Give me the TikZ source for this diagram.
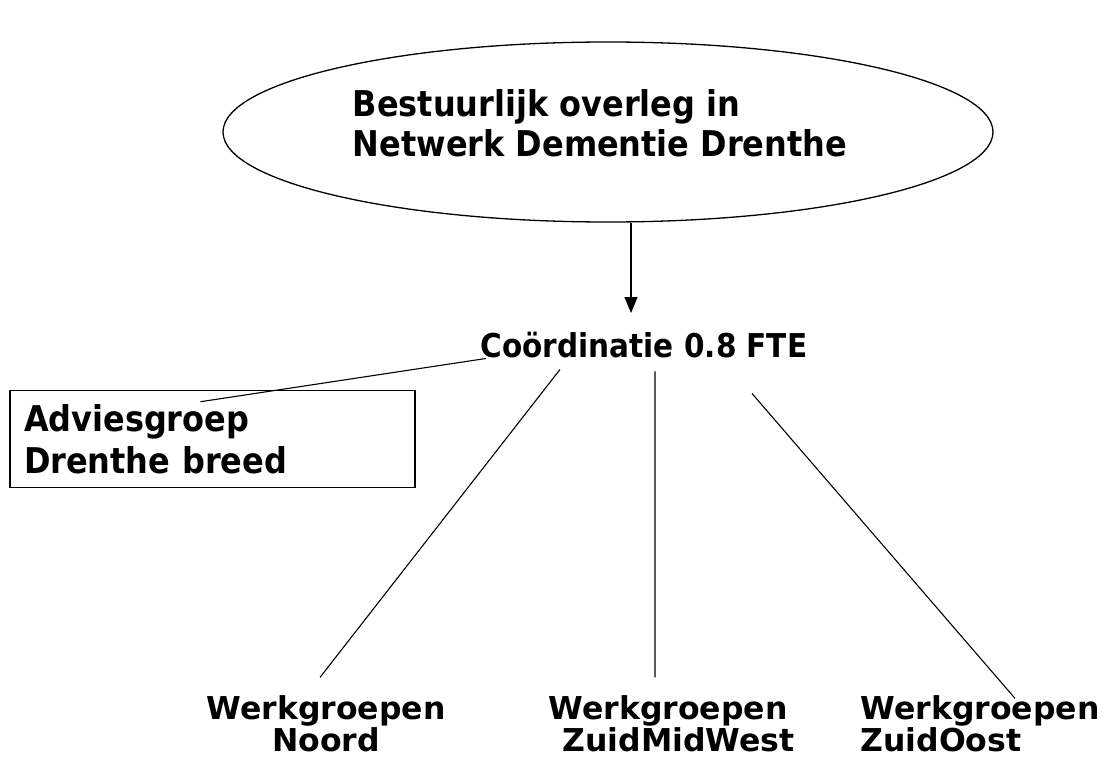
\documentclass[tikz,border=0pt]{standalone}
\usepackage{fontspec}
\setmainfont{DejaVu Sans}
\newfontfamily\smalfont[FakeStretch=0.9]{DejaVu Sans}
\usetikzlibrary{positioning, shapes.geometric, arrows.meta}

\begin{document}
\begin{tikzpicture}[
            x = 1pt, y = -1pt, % pixel grid, y runs downwards
            > = {Triangle[length=16pt, width=13pt]}, % arrow head style
            line width = 1.1pt, % line style
            every node/.style={inner sep=0pt, font=\smalfont\bfseries\fontsize{35.5}{40}\selectfont}
        ]

        \tikzstyle{groep}=[
            align = left,
            font = \bfseries\fontsize{31.5}{28}\selectfont
        ]

        \useasboundingbox (0,0) rectangle (1104,760);

       \node[ellipse,draw,line width=1.3pt,minimum width=770,minimum height=180] (overleg) at (608,132) {};
       \node[align=left] (overlegtxt) at (600,123) {Bestuurlijk overleg in\\Netwerk Dementie Drenthe};

       \node[font=\smalfont\bfseries\fontsize{32.8}{38}\selectfont] (coord) at (644,345) {Coördinatie 0.8 FTE};
       \coordinate (tip) at (631,313);

       \node[draw,minimum width=405,minimum height=92,text width=377,inner sep=14pt,align=left,font=\smalfont\bfseries\fontsize{35.5}{42}\selectfont] (advies) at (212.5,439) {Adviesgroep\\Drenthe breed};

	\node[groep,align=center] (noord) at (326,724) {Werkgroepen\\Noord};
	\node[groep,anchor=west] (zmw) at (548,724) {Werkgroepen\\\hspace{14pt}ZuidMidWest};
	\node[groep,anchor=west] (zo) at (860,724) {Werkgroepen\\ZuidOost};

        \draw[->] (tip |- overleg.south) -- (tip);

	\draw
            ([shift={(-158,0)}]coord.south)   --  ([shift={(-12,12)}]advies.north)
            ([shift={(-84,11)}]coord.south)   --  ([shift={(-6,-18)}]noord.north)
            ([shift={(11,13)}]coord.south)    --  ([shift={(107,-18)}]zmw.north west)
            ([shift={(108,35)}]coord.south)   --  ([shift={(155,3)}]zo.north west);

  \end{tikzpicture}
\end{document}
